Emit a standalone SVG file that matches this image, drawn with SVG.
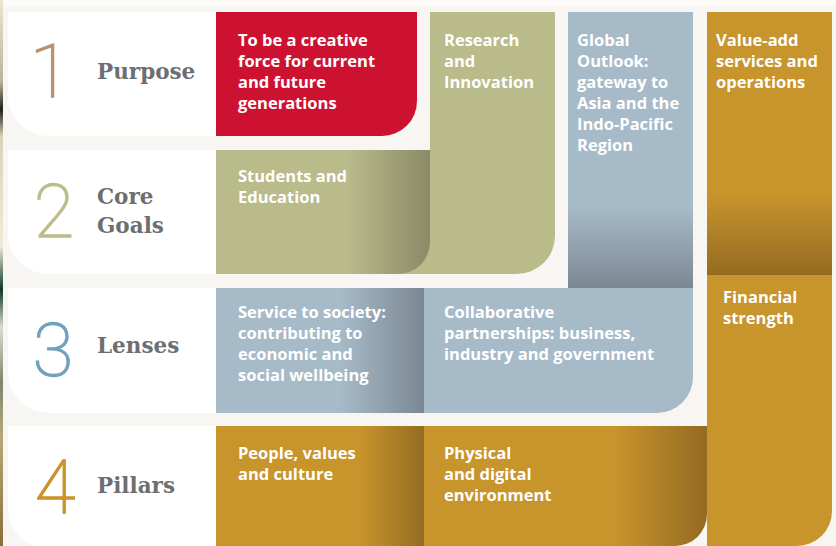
<svg xmlns="http://www.w3.org/2000/svg" width="836" height="546" viewBox="0 0 836 546">
  <style>
    .card { fill: #ffffff; }
    .t { fill: #ffffff; font-family: "Open Sans", "Noto Sans", "Liberation Sans", sans-serif; font-weight: 700; font-size: 16.5px; }
    .lbl { fill: #6d6e71; font-family: "DejaVu Serif", "Liberation Serif", serif; font-weight: 700; font-size: 21.5px; }
    .num { font-family: Roboto, "DejaVu Sans", sans-serif; font-weight: 100; font-size: 74px; stroke-width: 1.4; }
  </style>
  <defs>
    <linearGradient id="edge" x1="0" y1="0" x2="0" y2="1">
      <stop offset="0" stop-color="#ebe6cf"/>
      <stop offset="0.15" stop-color="#b9b39a"/>
      <stop offset="0.2" stop-color="#1f1f1f"/>
      <stop offset="0.25" stop-color="#d8d3b8"/>
      <stop offset="0.45" stop-color="#efeadb"/>
      <stop offset="0.53" stop-color="#0f3a2a"/>
      <stop offset="0.6" stop-color="#dcdccc"/>
      <stop offset="0.7" stop-color="#7d8670"/>
      <stop offset="0.8" stop-color="#b7a877"/>
      <stop offset="1" stop-color="#8a6f3a"/>
    </linearGradient>
    <linearGradient id="gStudents" gradientUnits="userSpaceOnUse" x1="347" y1="0" x2="430" y2="0">
      <stop offset="0" stop-color="#b9bb8a"/>
      <stop offset="1" stop-color="#8a8a67"/>
    </linearGradient>
    <linearGradient id="gGlobal" gradientUnits="userSpaceOnUse" x1="0" y1="207" x2="0" y2="288">
      <stop offset="0" stop-color="#a7bac8"/>
      <stop offset="1" stop-color="#7b8893"/>
    </linearGradient>
    <linearGradient id="gValue" gradientUnits="userSpaceOnUse" x1="0" y1="193" x2="0" y2="275">
      <stop offset="0" stop-color="#c8942c"/>
      <stop offset="1" stop-color="#946b22"/>
    </linearGradient>
    <linearGradient id="gService" gradientUnits="userSpaceOnUse" x1="340" y1="0" x2="424" y2="0">
      <stop offset="0" stop-color="#a7bac8"/>
      <stop offset="1" stop-color="#7b8893"/>
    </linearGradient>
    <linearGradient id="gPeople" gradientUnits="userSpaceOnUse" x1="360" y1="0" x2="424" y2="0">
      <stop offset="0" stop-color="#c8942c"/>
      <stop offset="1" stop-color="#946b22"/>
    </linearGradient>
    <linearGradient id="gPhysical" gradientUnits="userSpaceOnUse" x1="613" y1="0" x2="707" y2="0">
      <stop offset="0" stop-color="#c8942c"/>
      <stop offset="1" stop-color="#946b22"/>
    </linearGradient>
  </defs>

  <!-- page background -->
  <rect x="0" y="0" width="836" height="546" fill="#f7f6f2"/>
  <rect x="0" y="0" width="836" height="6" fill="#fcfbf8"/>
  <rect x="0" y="0" width="3" height="546" fill="url(#edge)"/>

  <!-- row header cards -->
  <g id="row-purpose">
    <path class="card" d="M8,12 H220 V136 H48 A40,40 0 0 1 8,96 Z"/>
    <text class="num" x="50" y="97" text-anchor="middle" fill="#b59473" stroke="#b59473">1</text>
    <text class="lbl" x="97" y="79">Purpose</text>
  </g>
  <g id="row-core-goals">
    <path class="card" d="M8,150 H220 V274 H48 A40,40 0 0 1 8,234 Z"/>
    <text class="num" x="54" y="237" text-anchor="middle" fill="#bcbd8a" stroke="#bcbd8a">2</text>
    <text class="lbl" x="97" y="204">Core</text>
    <text class="lbl" x="97" y="233">Goals</text>
  </g>
  <g id="row-lenses">
    <path class="card" d="M8,288 H220 V413 H48 A40,40 0 0 1 8,373 Z"/>
    <text class="num" x="53" y="376" text-anchor="middle" fill="#6fa3bd" stroke="#6fa3bd">3</text>
    <text class="lbl" x="97" y="353">Lenses</text>
  </g>
  <g id="row-pillars">
    <path class="card" d="M8,426 H220 V549 H48 A40,40 0 0 1 8,509 Z"/>
    <text class="num" x="55" y="513" text-anchor="middle" fill="#c8942c" stroke="#c8942c">4</text>
    <text class="lbl" x="97" y="493">Pillars</text>
  </g>

  <!-- purpose -->
  <g id="purpose">
    <path fill="#cd1231" d="M216,12 H417 V101 A35,35 0 0 1 382,136 H216 Z"/>
    <text class="t" x="238" y="46">To be a creative</text>
    <text class="t" x="238" y="67">force for current</text>
    <text class="t" x="238" y="88">and future</text>
    <text class="t" x="238" y="109">generations</text>
  </g>

  <!-- core goals -->
  <g id="research">
    <path fill="#b9bb8a" d="M430,12 H555 V236 A38,38 0 0 1 517,274 H400 V150 H430 Z"/>
    <text class="t" x="444" y="46">Research</text>
    <text class="t" x="444" y="67">and</text>
    <text class="t" x="444" y="88">Innovation</text>
  </g>
  <g id="students">
    <path fill="url(#gStudents)" d="M216,150 H430 V242 A32,32 0 0 1 398,274 H216 Z"/>
    <text class="t" x="238" y="182">Students and</text>
    <text class="t" x="238" y="203">Education</text>
  </g>
  <g id="global-outlook">
    <rect x="568" y="12" width="125" height="276" fill="url(#gGlobal)"/>
    <text class="t" x="577" y="46">Global</text>
    <text class="t" x="577" y="67">Outlook:</text>
    <text class="t" x="577" y="88">gateway to</text>
    <text class="t" x="577" y="109">Asia and the</text>
    <text class="t" x="577" y="130">Indo-Pacific</text>
    <text class="t" x="577" y="151">Region</text>
  </g>
  <g id="value-add">
    <rect x="707" y="12" width="125" height="263" fill="url(#gValue)"/>
    <text class="t" x="716" y="46">Value-add</text>
    <text class="t" x="716" y="67">services and</text>
    <text class="t" x="716" y="88">operations</text>
  </g>

  <!-- lenses -->
  <g id="service">
    <rect x="216" y="288" width="208" height="125" fill="url(#gService)"/>
    <text class="t" x="238" y="318">Service to society:</text>
    <text class="t" x="238" y="339">contributing to</text>
    <text class="t" x="238" y="360">economic and</text>
    <text class="t" x="238" y="381">social wellbeing</text>
  </g>
  <g id="collaborative">
    <path fill="#a7bac8" d="M424,288 H693 V377 A36,36 0 0 1 657,413 H424 Z"/>
    <text class="t" x="444" y="318">Collaborative</text>
    <text class="t" x="444" y="339">partnerships: business,</text>
    <text class="t" x="444" y="360">industry and government</text>
  </g>
  <g id="financial">
    <path fill="#c8942c" d="M707,275 H832 V511 A35,35 0 0 1 797,546 H707 Z"/>
    <text class="t" x="723" y="303">Financial</text>
    <text class="t" x="723" y="324">strength</text>
  </g>

  <!-- pillars -->
  <g id="people">
    <rect x="216" y="426" width="208" height="120" fill="url(#gPeople)"/>
    <text class="t" x="238" y="459">People, values</text>
    <text class="t" x="238" y="480">and culture</text>
  </g>
  <g id="physical">
    <path fill="url(#gPhysical)" d="M424,426 H707 V514 A32,32 0 0 1 675,546 H424 Z"/>
    <text class="t" x="444" y="459">Physical</text>
    <text class="t" x="444" y="480">and digital</text>
    <text class="t" x="444" y="501">environment</text>
  </g>
</svg>
